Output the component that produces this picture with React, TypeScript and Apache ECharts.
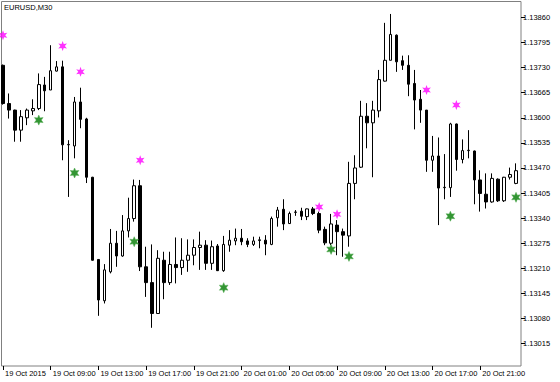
import React, { useEffect, useRef } from "react";
import * as echarts from "echarts";

// OHLC per 30-minute bar, 19 Oct 2015 05:00 onward
const opens = [
  1.13736, 1.13637, 1.1362, 1.13568, 1.136, 1.13618, 1.13624, 1.13685, 1.13672, 1.13721,
  1.13732, 1.1353, 1.13527, 1.13641, 1.13597, 1.13446, 1.13233, 1.13126, 1.13201, 1.13275,
  1.13242, 1.13307, 1.13339, 1.13424, 1.13214, 1.13173, 1.13093, 1.13231, 1.13173, 1.1322,
  1.13212, 1.13231, 1.13244, 1.13264, 1.1327, 1.13223, 1.13268, 1.13204, 1.1327, 1.13281,
  1.13288, 1.13281, 1.13272, 1.13282, 1.13283, 1.13272, 1.13341, 1.13363, 1.13326, 1.13355,
  1.13358, 1.13344, 1.13364, 1.13352, 1.13311, 1.13275, 1.13322, 1.13305, 1.13294, 1.1343,
  1.13472, 1.13604, 1.13587, 1.13618, 1.13695, 1.13749, 1.13814, 1.13748, 1.13736, 1.13689,
  1.13648, 1.1362, 1.1349, 1.13501, 1.13419, 1.13419, 1.13584, 1.13492, 1.13515, 1.13514,
  1.13439, 1.13402, 1.13382, 1.13441, 1.13385, 1.13446, 1.1343,
];
const highs = [
  1.13738, 1.13663, 1.13621, 1.1362, 1.13624, 1.13648, 1.13715, 1.13706, 1.13788, 1.13747,
  1.13748, 1.13542, 1.13654, 1.13678, 1.136, 1.13447, 1.13234, 1.13221, 1.13312, 1.13307,
  1.13348, 1.13393, 1.1344, 1.13439, 1.13266, 1.13272, 1.13257, 1.13253, 1.13253, 1.1329,
  1.13288, 1.13285, 1.13285, 1.13305, 1.13283, 1.13282, 1.13273, 1.13294, 1.13309, 1.13313,
  1.13312, 1.13288, 1.13292, 1.13292, 1.13296, 1.13344, 1.13369, 1.13389, 1.13357, 1.13361,
  1.13367, 1.13365, 1.13369, 1.13357, 1.13318, 1.13351, 1.13335, 1.13313, 1.13486, 1.13503,
  1.13644, 1.13638, 1.13644, 1.13724, 1.13846, 1.13869, 1.13816, 1.13761, 1.13762, 1.13724,
  1.13672, 1.1362, 1.13553, 1.13549, 1.13506, 1.13587, 1.13585, 1.13544, 1.13568, 1.13515,
  1.13464, 1.13456, 1.13456, 1.13443, 1.13447, 1.13471, 1.13482,
];
const lows = [
  1.13634, 1.13598, 1.13538, 1.13538, 1.13581, 1.13607, 1.1362, 1.13617, 1.13672, 1.1372,
  1.1349, 1.13395, 1.13495, 1.13573, 1.13431, 1.1323, 1.13087, 1.13119, 1.13197, 1.13214,
  1.1324, 1.1329, 1.13331, 1.13203, 1.13136, 1.13056, 1.13092, 1.1313, 1.13167, 1.13171,
  1.13193, 1.13201, 1.13218, 1.13206, 1.13206, 1.13206, 1.13203, 1.13201, 1.13253, 1.1327,
  1.1327, 1.13265, 1.13268, 1.13262, 1.13244, 1.1327, 1.13318, 1.13309, 1.13325, 1.13346,
  1.13335, 1.13335, 1.13348, 1.13301, 1.1327, 1.1327, 1.13244, 1.1324, 1.13266, 1.13389,
  1.1347, 1.13521, 1.13446, 1.13601, 1.13694, 1.13749, 1.13719, 1.13724, 1.13656, 1.1357,
  1.13587, 1.1346, 1.1346, 1.13322, 1.13389, 1.13395, 1.13463, 1.13482, 1.13495, 1.13376,
  1.13357, 1.13365, 1.1338, 1.13382, 1.13382, 1.1344, 1.13428,
];
const closes = [
  1.13637, 1.1362, 1.13568, 1.13603, 1.1362, 1.13624, 1.13686, 1.1367, 1.13722, 1.13732,
  1.1353, 1.13531, 1.13641, 1.13596, 1.13446, 1.13231, 1.13128, 1.13206, 1.13275, 1.13242,
  1.13307, 1.13339, 1.13424, 1.13214, 1.13173, 1.13093, 1.13236, 1.13173, 1.1322, 1.13212,
  1.13231, 1.13244, 1.13264, 1.1327, 1.13223, 1.13266, 1.13204, 1.13272, 1.13283, 1.13288,
  1.13279, 1.13272, 1.13281, 1.13284, 1.13273, 1.13339, 1.13361, 1.13325, 1.13352, 1.13356,
  1.13345, 1.13364, 1.13352, 1.13309, 1.13276, 1.13325, 1.13305, 1.13296, 1.1343, 1.1347,
  1.13604, 1.13587, 1.1362, 1.13699, 1.13749, 1.13816, 1.13745, 1.13736, 1.13687, 1.13646,
  1.1362, 1.1349, 1.13501, 1.13418, 1.1342, 1.13584, 1.13492, 1.13515, 1.13516, 1.13439,
  1.13404, 1.13382, 1.13443, 1.13385, 1.13446, 1.13453, 1.13463,
];

// indicator marks
const magentaIdx = [0, 10, 13, 23, 53, 56, 71, 76];
const magentaVals = [1.13814, 1.13786, 1.13719, 1.1349, 1.13369, 1.1335, 1.13672, 1.13633];
const greenIdx = [6, 12, 22, 37, 55, 58, 75, 86];
const greenVals = [1.13594, 1.13457, 1.13279, 1.1316, 1.13259, 1.13241, 1.13345, 1.13394];

// axis ticks
const yTicks = [
  1.13015, 1.1308, 1.13145, 1.1321, 1.13275, 1.1334, 1.13405, 1.1347, 1.13535, 1.136,
  1.13665, 1.1373, 1.13795, 1.1386,
];
const xTickIdx = [0, 8, 16, 24, 32, 40, 48, 56, 64, 72, 80];
const xTickLabels = [
  "19 Oct 2015", "19 Oct 09:00", "19 Oct 13:00", "19 Oct 17:00", "19 Oct 21:00",
  "20 Oct 01:00", "20 Oct 05:00", "20 Oct 09:00", "20 Oct 13:00", "20 Oct 17:00", "20 Oct 21:00",
];

const categories: string[] = opens.map((_, i) => {
  const m = 5 * 60 + 30 * i;
  const day = 19 + Math.floor(m / 1440);
  const mm = m % 1440;
  const hh = String(Math.floor(mm / 60)).padStart(2, "0");
  const mi = String(mm % 60).padStart(2, "0");
  return `${day} Oct ${hh}:${mi}`;
});

function starPath(inner: number): string {
  const pts: string[] = [];
  for (let k = 0; k < 12; k++) {
    const a = -Math.PI / 2 + (k * Math.PI) / 6;
    const r = k % 2 === 0 ? 1 : inner;
    pts.push(`${(50 + 50 * r * Math.cos(a)).toFixed(2)} ${(50 + 50 * r * Math.sin(a)).toFixed(2)}`);
  }
  return "path://M" + pts.join(" L") + " Z";
}

const FONT = "Liberation Sans";

export default function App() {
  const ref = useRef<HTMLDivElement>(null);
  useEffect(() => {
    document.body.style.margin = "0";
    document.body.style.background = "#ffffff";
    if (!ref.current) return;
    const chart = echarts.init(ref.current, undefined, { renderer: "svg" });
    const showTick = (index: number) => xTickIdx.indexOf(index) >= 0;
    chart.setOption({
      animation: false,
      title: {
        text: "EURUSD,M30",
        left: 4,
        top: 3,
        padding: 0,
        textStyle: { fontSize: 7.5, fontWeight: "normal", fontFamily: FONT, color: "#000" },
      },
      grid: [
        { left: 0, right: 41, top: 2, bottom: 16, containLabel: false },
        {
          left: 1.5,
          right: 39,
          top: 1.5,
          bottom: 16,
          show: true,
          borderColor: "#808080",
          borderWidth: 1,
          backgroundColor: "transparent",
          containLabel: false,
        },
      ],
      xAxis: [
        {
          type: "category",
          data: categories,
          boundaryGap: true,
          axisLine: { show: false },
          axisTick: {
            show: true,
            alignWithLabel: true,
            interval: (i: number) => showTick(i),
            length: 4,
            lineStyle: { color: "#000", width: 1 },
          },
          axisLabel: {
            interval: (i: number) => showTick(i),
            formatter: (_v: string, i: number) => {
              const k = xTickIdx.indexOf(i);
              return k >= 0 ? xTickLabels[k] : "";
            },
            align: "left",
            margin: 3,
            padding: [0, 0, 0, 2],
            fontSize: 7.5,
            fontFamily: FONT,
            color: "#000",
          },
          splitLine: { show: false },
        },
        { type: "value", gridIndex: 1, show: false, min: 0, max: 1 },
      ],
      yAxis: [
        {
          type: "value",
          position: "right",
          offset: 2,
          min: 1.12957,
          max: 1.139,
          axisLine: { show: false },
          splitLine: { show: false },
          axisTick: {
            show: true,
            length: 4,
            customValues: yTicks,
            lineStyle: { color: "#000", width: 1 },
          },
          axisLabel: {
            customValues: yTicks,
            formatter: (v: number) => v.toFixed(5),
            margin: 2,
            fontSize: 7.5,
            fontFamily: FONT,
            color: "#000",
          },
        },
        { type: "value", gridIndex: 1, show: false, min: 0, max: 1 },
      ],
      series: [
        {
          type: "candlestick",
          data: opens.map((o, i) => [o, closes[i], lows[i], highs[i]]),
          barWidth: 3,
          itemStyle: {
            color: "#ffffff",
            color0: "#000000",
            borderColor: "#000000",
            borderColor0: "#000000",
            borderWidth: 1,
          },
        },
        {
          type: "scatter",
          data: magentaIdx.map((ix, k) => [ix, magentaVals[k]]),
          symbol: starPath(0.45),
          symbolKeepAspect: true,
          symbolSize: 10,
          itemStyle: { color: "#ff00ff" },
          z: 5,
        },
        {
          type: "scatter",
          data: greenIdx.map((ix, k) => [ix, greenVals[k]]),
          symbol: starPath(0.5),
          symbolKeepAspect: true,
          symbolSize: 10,
          itemStyle: { color: "#007a00", borderColor: "#4aa84a", borderWidth: 0.6 },
          z: 5,
        },
      ],
    });
    return () => chart.dispose();
  }, []);
  return <div ref={ref} style={{ position: "absolute", left: 0, top: 0, width: 560, height: 382 }} />;
}
